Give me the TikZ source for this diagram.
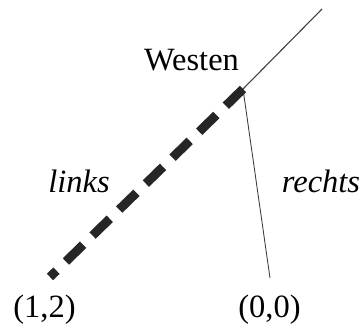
\documentclass[tikz,border=0pt]{standalone}
\usepackage{fontspec}
\setmainfont{Liberation Serif}
\begin{document}
\begin{tikzpicture}[x=1pt,y=1pt,
  lbl/.style={font=\fontsize{32.5}{36}\selectfont, inner sep=0pt, anchor=base},
  thinline/.style={draw=black!75, line width=1.1pt},
  thickdash/.style={draw=black!85, line width=9pt, dash pattern=on 24pt off 13.2pt, line cap=butt}]
\useasboundingbox (0,0) rectangle (362,327);
\coordinate (w) at (243,238);
\coordinate (top) at (322,318);
\coordinate (l) at (50,50);
\coordinate (r) at (270,49);
\node[lbl] (westen) at (191.5,256) {Westen};
\node[lbl] (links) at (79,134) {\itshape links};
\node[lbl] (rechts) at (321,134) {\itshape rechts};
\node[lbl] (n12) at (44.5,9) {(1,2)};
\node[lbl] (n00) at (269.5,9) {(0,0)};
\draw[thinline] (w) -- (top);
\draw[thinline, line width=0.9pt] (w) -- (r);
\draw[thickdash] (w) -- (l);
\end{tikzpicture}
\end{document}
